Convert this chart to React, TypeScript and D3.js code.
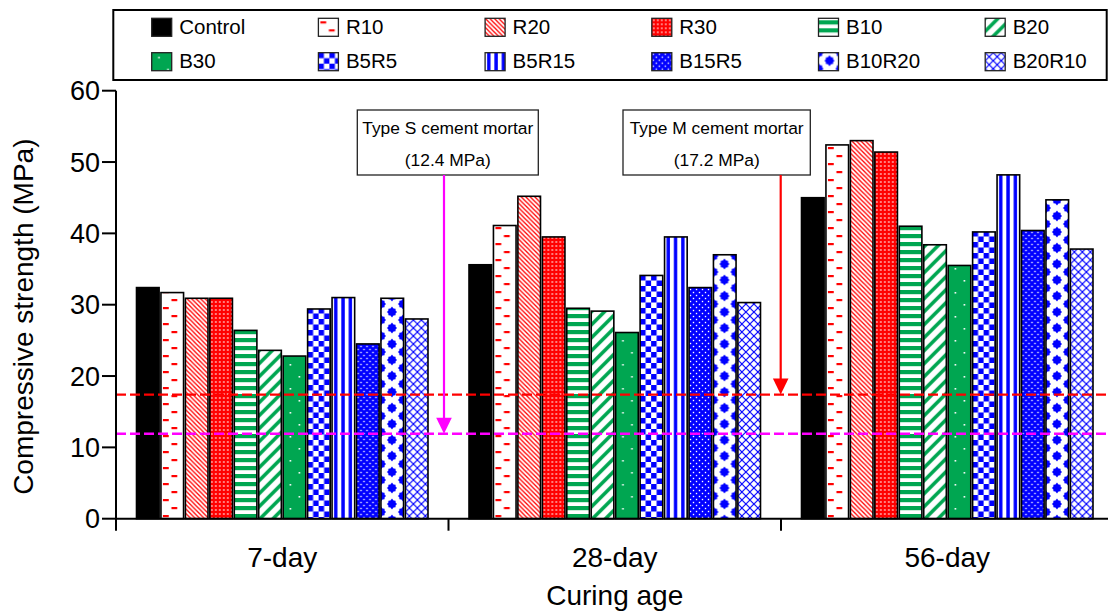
import React from 'react';
import * as d3 from 'd3';

const ages = ['7-day', '28-day', '56-day'];
const mixes = ['Control', 'R10', 'R20', 'R30', 'B10', 'B20', 'B30', 'B5R5', 'B5R15', 'B15R5', 'B10R20', 'B20R10'];
const strength7 = [32.4, 31.7, 30.9, 30.9, 26.4, 23.6, 22.8, 29.4, 31.0, 24.5, 30.9, 28.0];
const strength28 = [35.6, 41.1, 45.2, 39.5, 29.5, 29.1, 26.1, 34.1, 39.5, 32.4, 37.0, 30.3];
const strength56 = [45.0, 52.4, 53.0, 51.4, 41.0, 38.4, 35.5, 40.2, 48.2, 40.4, 44.7, 37.8];
const yTicks = [0, 10, 20, 30, 40, 50, 60];
const refLabels = ['Type S cement mortar', 'Type M cement mortar'];
const refValues = ['(12.4 MPa)', '(17.2 MPa)'];
const refLineLevels = [11.9, 17.4];
const yTitle = 'Compressive strength (MPa)';
const xTitle = 'Curing age';

const RED = '#ff0000';
const GREEN = '#00a651';
const BLUE = '#0000ff';
const MAGENTA = '#ff00ff';
const FONT = '"Liberation Sans", Arial, sans-serif';

const W = 1108;
const H = 612;
const x0 = d3.scaleBand<string>().domain(ages).range([116, 1113.5]).padding(0);
const x1 = d3.scaleBand<string>().domain(mixes).range([20.5, 312]).paddingInner(0.075).paddingOuter(0);
const y = d3.scaleLinear().domain([0, 60]).range([518.7, 90.7]);

const table = ages.map((a, i) => ({ age: a, values: [strength7, strength28, strength56][i] }));

function Pattern({ id, kind, tx, ty }: { id: string; kind: string; tx: number; ty: number }) {
  const t = `translate(${tx},${ty})`;
  const P = (w: number, h: number, children: any) => (
    <pattern id={id} patternUnits="userSpaceOnUse" width={w} height={h} patternTransform={t}>
      {children}
    </pattern>
  );
  switch (kind) {
    case 'R10':
      return P(22, 16, <>
        <rect width={22} height={16} fill="#fff" />
        <rect x={2} y={3} width={5.8} height={2.2} fill={RED} />
        <rect x={10.5} y={11} width={5.8} height={2.2} fill={RED} />
      </>);
    case 'R20':
      return P(4.5, 4.5, <>
        <rect width={4.5} height={4.5} fill="#fff" />
        <path d="M0,0L4.5,4.5M-1,3.5L1,5.5M3.5,-1L5.5,1" stroke={RED} strokeWidth={1.3} />
      </>);
    case 'R30':
      return P(4, 4, <>
        <rect width={4} height={4} fill={RED} />
        <rect x={1.3} y={1.3} width={1.4} height={1.4} fill="#fff" />
      </>);
    case 'B10':
      return P(8, 8, <>
        <rect width={8} height={8} fill="#fff" />
        <rect y={2} width={8} height={4.2} fill={GREEN} />
      </>);
    case 'B20':
      return P(13, 13, <>
        <rect width={13} height={13} fill="#fff" />
        <path d="M0,13L13,0M-3,3L3,-3M10,16L16,10" stroke={GREEN} strokeWidth={3.6} />
      </>);
    case 'B30':
      return P(22, 24, <>
        <rect width={22} height={24} fill={GREEN} />
        <rect x={6.5} y={4} width={1.6} height={1.6} fill="#fff" />
        <rect x={15.5} y={16} width={1.6} height={1.6} fill="#fff" />
      </>);
    case 'B5R5':
      return P(11, 11, <>
        <rect width={11} height={11} fill="#fff" />
        <rect width={5.5} height={5.5} fill={BLUE} />
        <rect x={5.5} y={5.5} width={5.5} height={5.5} fill={BLUE} />
      </>);
    case 'B5R15':
      return P(7.3, 10, <>
        <rect width={7.3} height={10} fill="#fff" />
        <rect x={2} width={3.4} height={10} fill={BLUE} />
      </>);
    case 'B15R5':
      return P(6, 6, <>
        <rect width={6} height={6} fill={BLUE} />
        <rect x={0.8} y={0.8} width={1.4} height={1.4} fill="#fff" />
        <rect x={3.8} y={3.8} width={1.4} height={1.4} fill="#fff" />
      </>);
    case 'B10R20': {
      const blob = '0,-5.5 1.5,-3.6 3.6,-3.2 3.6,-1.5 5,0 3.6,1.5 3.6,3.2 1.5,3.6 0,5.5 -1.5,3.6 -3.6,3.2 -3.6,1.5 -5,0 -3.6,-1.5 -3.6,-3.2 -1.5,-3.6';
      return P(22, 16, <>
        <rect width={22} height={16} fill="#fff" />
        {[[11, 8], [0, 0], [22, 0], [0, 16], [22, 16]].map(([cx, cy], i) => (
          <polygon key={i} points={blob} transform={`translate(${cx},${cy})`} fill={BLUE} />
        ))}
      </>);
    }
    case 'B20R10':
      return P(8, 8, <>
        <rect width={8} height={8} fill="#fff" />
        <path d="M0,0L8,8M8,0L0,8" stroke={BLUE} strokeWidth={1.2} />
      </>);
    default:
      return null;
  }
}

const fillFor = (kind: string, id: string) => (kind === 'Control' ? '#000' : `url(#${id})`);

export default function App() {
  const bw = x1.bandwidth();
  const legendCols = 6;
  const legendX = (i: number) => 151.7 + (i % legendCols) * 166.7;
  const legendY = (i: number) => (i < legendCols ? 18.3 : 52.7);

  const defs: any[] = [];
  table.forEach((g, gi) => {
    mixes.forEach((m, si) => {
      const bx = (x0(g.age) as number) + (x1(m) as number);
      defs.push(<Pattern key={`b${gi}-${si}`} id={`b${gi}-${si}`} kind={m} tx={bx} ty={0} />);
    });
  });
  mixes.forEach((m, i) => {
    defs.push(<Pattern key={`l${i}`} id={`l${i}`} kind={m} tx={legendX(i)} ty={legendY(i)} />);
  });

  const arrowX = [444, 780.7];
  const boxes = [
    { x: 357.3, w: 181, cx: 447.8 },
    { x: 623, w: 187.3, cx: 716.7 },
  ];

  return (
    <svg width={W} height={H} style={{ position: 'absolute', left: 0, top: 0, background: '#fff' }} fontFamily={FONT}>
      <defs>{defs}</defs>
      <rect width={W} height={H} fill="#fff" />

      {/* Legend */}
      <rect x={113.3} y={10} width={993.4} height={70} fill="none" stroke="#000" strokeWidth={2} />
      {mixes.map((m, i) => (
        <g key={m}>
          <rect x={legendX(i)} y={legendY(i)} width={20} height={18} fill={fillFor(m, `l${i}`)} stroke="#222" strokeWidth={1.3} />
          <text x={legendX(i) + 27.5} y={legendY(i) + 15.2} fontSize={20.5} fill="#000">{m}</text>
        </g>
      ))}

      {/* Bars */}
      {table.map((g, gi) => (
        <g key={g.age}>
          {g.values.map((v, si) => {
            const bx = (x0(g.age) as number) + (x1(mixes[si]) as number);
            return (
              <rect key={si} x={bx} y={y(v)} width={bw} height={y(0) - y(v)}
                fill={fillFor(mixes[si], `b${gi}-${si}`)} stroke="#000" strokeWidth={1.6} />
            );
          })}
        </g>
      ))}

      {/* Reference dashed lines */}
      <line x1={116} x2={W} y1={y(refLineLevels[1])} y2={y(refLineLevels[1])} stroke={RED} strokeWidth={2.4} strokeDasharray="10,4" />
      <line x1={116} x2={W} y1={y(refLineLevels[0])} y2={y(refLineLevels[0])} stroke={MAGENTA} strokeWidth={2.4} strokeDasharray="10,4" />

      {/* Annotation boxes & arrows */}
      {boxes.map((b, i) => {
        const col = i === 0 ? MAGENTA : RED;
        const tipY = y(refLineLevels[i]);
        return (
          <g key={i}>
            <rect x={b.x} y={110} width={b.w} height={65} fill="#fff" stroke="#222" strokeWidth={1.3} />
            <text x={b.cx} y={134} fontSize={17.4} textAnchor="middle" fill="#000">{refLabels[i]}</text>
            <text x={b.cx} y={166} fontSize={17.4} textAnchor="middle" fill="#000">{refValues[i]}</text>
            <line x1={arrowX[i]} x2={arrowX[i]} y1={175} y2={tipY - 14} stroke={col} strokeWidth={2.2} />
            <path d={`M${arrowX[i] - 7.8},${tipY - 16}L${arrowX[i] + 7.8},${tipY - 16}L${arrowX[i]},${tipY}Z`} fill={col} />
          </g>
        );
      })}

      {/* Axes */}
      <line x1={116} x2={116} y1={y(60)} y2={y(0) + 12} stroke="#000" strokeWidth={2} />
      <line x1={116} x2={W} y1={y(0)} y2={y(0)} stroke="#000" strokeWidth={2} />
      {yTicks.map((t) => (
        <g key={t}>
          <line x1={102} x2={116} y1={y(t)} y2={y(t)} stroke="#000" strokeWidth={2} />
          <text x={100} y={y(t) + 9.7} fontSize={27} textAnchor="end" fill="#000">{t}</text>
        </g>
      ))}
      {ages.map((a, i) => (
        i > 0 ? <line key={a} x1={x0(a)} x2={x0(a)} y1={y(0)} y2={y(0) + 12} stroke="#000" strokeWidth={2} /> : null
      ))}
      {ages.map((a) => (
        <text key={a} x={(x0(a) as number) + x0.bandwidth() / 2} y={567} fontSize={28} textAnchor="middle" fill="#000">{a}</text>
      ))}
      <text x={(116 + 1113.5) / 2} y={605} fontSize={28} textAnchor="middle" fill="#000">{xTitle}</text>
      <text transform={`translate(32.5,316.7) rotate(-90)`} fontSize={28} textAnchor="middle" fill="#000">{yTitle}</text>
    </svg>
  );
}
